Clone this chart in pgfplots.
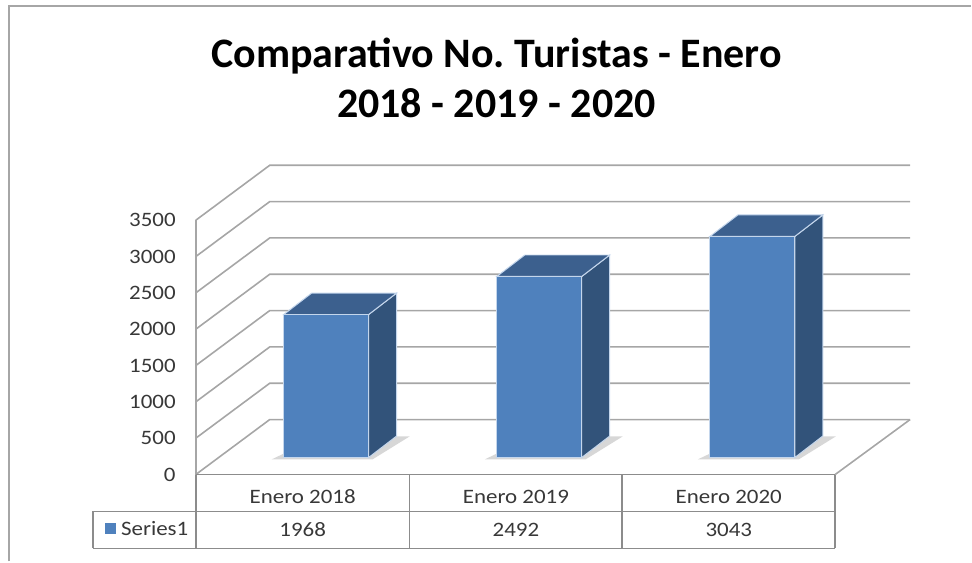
\documentclass[border=0pt]{standalone}
\usepackage{pgfplots}
\pgfplotsset{compat=1.18}
\usepackage{pgfplotstable}
\usepackage{fontspec}
\setmainfont{Carlito}
\newfontfamily\tabfont{Carlito}[FakeStretch=1.12]
\definecolor{frontc}{RGB}{79,129,189}
\definecolor{sidec}{RGB}{50,83,122}
\definecolor{topc}{RGB}{60,96,142}
\definecolor{edgec}{RGB}{196,214,236}
\definecolor{gridc}{RGB}{166,166,166}
\definecolor{tabc}{RGB}{140,140,140}
\definecolor{txtc}{RGB}{56,56,56}
\pgfplotstableread{
xc v
326.5 1968
539.8 2492
753.1 3043
}\datatable
\tikzset{tl/.style={text=txtc, font=\tabfont\fontsize{20.5}{24}\selectfont},
  yl/.style={anchor=east, inner sep=0pt, tl}}
\frenchspacing
\begin{document}
\begin{tikzpicture}
\begin{axis}[
  scale only axis, width=972pt, height=562pt,
  xmin=0, xmax=972, ymin=-1196.25, ymax=6531.25,
  hide axis, clip=false]
% bounding box
\addplot[draw=none] coordinates {(0,-1196.25) (972,6531.25)};
% outer frame
\addplot[draw=gridc, line width=2pt] coordinates {(9,-1196.25) (9,6448.75) (972,6448.75)};
% walls and gridlines
\addplot[draw=gridc, line width=1.6pt] coordinates {(196,0) (196,3500)};
\addplot[draw=gridc, line width=1.6pt] coordinates {(196,0) (270,756.25) (911,756.25)};
\addplot[draw=gridc, line width=1.6pt] coordinates {(196,500) (270,1256.25) (911,1256.25)};
\addplot[draw=gridc, line width=1.6pt] coordinates {(196,1000) (270,1756.25) (911,1756.25)};
\addplot[draw=gridc, line width=1.6pt] coordinates {(196,1500) (270,2256.25) (911,2256.25)};
\addplot[draw=gridc, line width=1.6pt] coordinates {(196,2000) (270,2756.25) (911,2756.25)};
\addplot[draw=gridc, line width=1.6pt] coordinates {(196,2500) (270,3256.25) (911,3256.25)};
\addplot[draw=gridc, line width=1.6pt] coordinates {(196,3000) (270,3756.25) (911,3756.25)};
\addplot[draw=gridc, line width=1.6pt] coordinates {(196,3500) (270,4256.25) (911,4256.25)};
% floor
\addplot[draw=gridc, line width=1.6pt] coordinates {(836,0) (911,756.25)};
% shadows
\addplot[fill=gray!45, draw=none, opacity=0.7, yshift=17pt] coordinates {(272,-25) (373,-25) (410,290) (320,290)} --cycle;
\addplot[fill=gray!45, draw=none, opacity=0.7, yshift=17pt] coordinates {(485.3,-25) (586.3,-25) (623.3,290) (533.3,290)} --cycle;
\addplot[fill=gray!45, draw=none, opacity=0.7, yshift=17pt] coordinates {(698.6,-25) (799.6,-25) (836.6,290) (746.6,290)} --cycle;
% bar 1
\addplot[fill=sidec, draw=edgec, line width=1pt, yshift=17pt] coordinates {(369,0) (397,295.6) (397,2263.6) (369,1968)} --cycle;
\addplot[fill=topc, draw=edgec, line width=1pt, yshift=17pt] coordinates {(284,1968) (369,1968) (397,2263.6) (312,2263.6)} --cycle;
% bar 2
\addplot[fill=sidec, draw=edgec, line width=1pt, yshift=17pt] coordinates {(582.3,0) (610.3,295.6) (610.3,2787.6) (582.3,2492)} --cycle;
\addplot[fill=topc, draw=edgec, line width=1pt, yshift=17pt] coordinates {(497.3,2492) (582.3,2492) (610.3,2787.6) (525.3,2787.6)} --cycle;
% bar 3
\addplot[fill=sidec, draw=edgec, line width=1pt, yshift=17pt] coordinates {(795.6,0) (823.6,295.6) (823.6,3338.6) (795.6,3043)} --cycle;
\addplot[fill=topc, draw=edgec, line width=1pt, yshift=17pt] coordinates {(710.6,3043) (795.6,3043) (823.6,3338.6) (738.6,3338.6)} --cycle;
% front faces from data
\addplot[ybar, bar width=85, fill=frontc, draw=edgec, line width=1pt, yshift=17pt] table[x=xc, y=v] {\datatable};
% data table
\addplot[draw=tabc, line width=1.8pt] coordinates {(196,0) (836,0)};
\addplot[draw=tabc, line width=1.8pt] coordinates {(93,-508.75) (836,-508.75)};
\addplot[draw=tabc, line width=1.8pt] coordinates {(93,-1017.5) (836,-1017.5)};
\addplot[draw=tabc, line width=1.8pt] coordinates {(93,-508.75) (93,-1017.5)};
\addplot[draw=tabc, line width=1.8pt] coordinates {(196,0) (196,-1017.5)};
\addplot[draw=tabc, line width=1.8pt] coordinates {(410,0) (410,-1017.5)};
\addplot[draw=tabc, line width=1.8pt] coordinates {(623,0) (623,-1017.5)};
\addplot[draw=tabc, line width=1.8pt] coordinates {(836,0) (836,-1017.5)};
% legend key
\addplot[fill=frontc, draw=none] coordinates {(105,-666.9) (116,-666.9) (116,-818.1) (105,-818.1)} --cycle;
% texts
\node[font=\bfseries\fontsize{42}{50}\selectfont, align=center, text=black] at (axis cs:497,5458.75) {Comparativo No.\ Turistas - Enero\\2018 - 2019 - 2020};
\node[yl] at (axis cs:176,0) {0};
\node[yl] at (axis cs:176,500) {500};
\node[yl] at (axis cs:176,1000) {1000};
\node[yl] at (axis cs:176,1500) {1500};
\node[yl] at (axis cs:176,2000) {2000};
\node[yl] at (axis cs:176,2500) {2500};
\node[yl] at (axis cs:176,3000) {3000};
\node[yl] at (axis cs:176,3500) {3500};
\node[tl] at (axis cs:303,-309.4) {Enero 2018};
\node[tl] at (axis cs:516.5,-309.4) {Enero 2019};
\node[tl] at (axis cs:729.5,-309.4) {Enero 2020};
\node[tl] at (axis cs:303,-763.1) {1968};
\node[tl] at (axis cs:516.5,-763.1) {2492};
\node[tl] at (axis cs:729.5,-763.1) {3043};
\node[tl, anchor=west, inner sep=0pt] at (axis cs:121,-742.5) {Series1};
\end{axis}
\end{tikzpicture}
\end{document}
